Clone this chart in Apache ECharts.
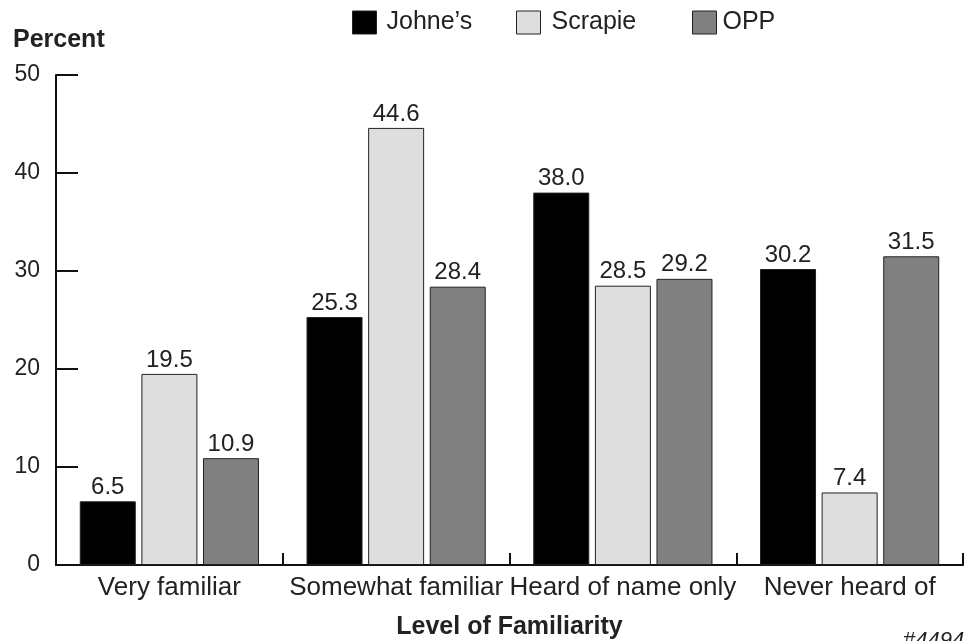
<!DOCTYPE html>
<html><head><meta charset="utf-8">
<script src="https://cdn.jsdelivr.net/npm/echarts@6/dist/echarts.min.js"></script>
<style>html,body{margin:0;padding:0;background:#fff}#c{width:973px;height:641px}</style>
</head><body><div id="c"></div>
<script>
const categories = ['Very familiar', 'Somewhat familiar', 'Heard of name only', 'Never heard of'];
const johnes = [6.5, 25.3, 38.0, 30.2];
const scrapie = [19.5, 44.6, 28.5, 7.4];
const opp = [10.9, 28.4, 29.2, 31.5];
const seriesNames = ["Johne\u2019s", 'Scrapie', 'OPP'];
const yTicks = [0, 10, 20, 30, 40, 50];

const font = 'Liberation Sans, Arial, sans-serif';
const colors = ['#000000', '#dedede', '#808080'];
const chart = echarts.init(document.getElementById('c'));
function mk(name, data, color) {
  return {
    name, type: 'bar', data, barWidth: 56, barGap: '10%',
    itemStyle: { color, borderColor: '#222', borderWidth: 1 },
    label: { show: true, position: 'top', distance: 2, color: '#222', fontSize: 24, fontFamily: font,
      formatter: p => p.value.toFixed(1) }
  };
}
const legendLefts = [347, 511, 687];
const legendTextPad = [[0, 0, 0, 5], [0, 0, 0, 6], [0, 0, 0, 1]];
chart.setOption({
  animation: false,
  textStyle: { fontFamily: font },
  grid: { left: 56, right: 10, top: 75, bottom: 76, outerBoundsMode: 'none', containLabel: false },
  legend: seriesNames.map((n, i) => ({
    top: 5, left: legendLefts[i], itemWidth: 24, itemHeight: 23, icon: 'rect',
    textStyle: { fontSize: 25, color: '#222', fontFamily: font, padding: legendTextPad[i] },
    data: [{ name: n, itemStyle: { color: colors[i], borderColor: '#222', borderWidth: 1 } }]
  })),
  xAxis: {
    type: 'category', data: categories,
    axisLine: { lineStyle: { color: '#111', width: 2 } },
    axisTick: { show: true, inside: true, length: 12, interval: 0, lineStyle: { color: '#111', width: 2 } },
    axisLabel: { fontSize: 26, color: '#222', margin: 10, interval: 0, fontFamily: font },
    name: 'Level of Familiarity', nameLocation: 'middle', nameGap: 50,
    nameTextStyle: { fontSize: 25, fontWeight: 'bold', color: '#222', fontFamily: font }
  },
  yAxis: {
    type: 'value', min: 0, max: 50, interval: 10,
    axisLine: { show: true, lineStyle: { color: '#111', width: 2 } },
    axisTick: { show: true, inside: true, length: 22, lineStyle: { color: '#111', width: 2 } },
    axisLabel: { fontSize: 23, color: '#222', margin: 16, fontFamily: font,
      formatter: v => yTicks.includes(v) ? String(v) : '' },
    splitLine: { show: false },
    name: 'Percent', nameLocation: 'end', nameGap: 22,
    nameTextStyle: { fontSize: 25, fontWeight: 'bold', color: '#222', align: 'left', padding: [0, 0, 0, -43], fontFamily: font }
  },
  graphic: [{
    type: 'text', left: 903, top: 630,
    style: { text: '#4494', fontSize: 22, fontStyle: 'italic', fill: '#222', fontFamily: font }
  }],
  series: [mk(seriesNames[0], johnes, colors[0]), mk(seriesNames[1], scrapie, colors[1]), mk(seriesNames[2], opp, colors[2])]
});
</script></body></html>
